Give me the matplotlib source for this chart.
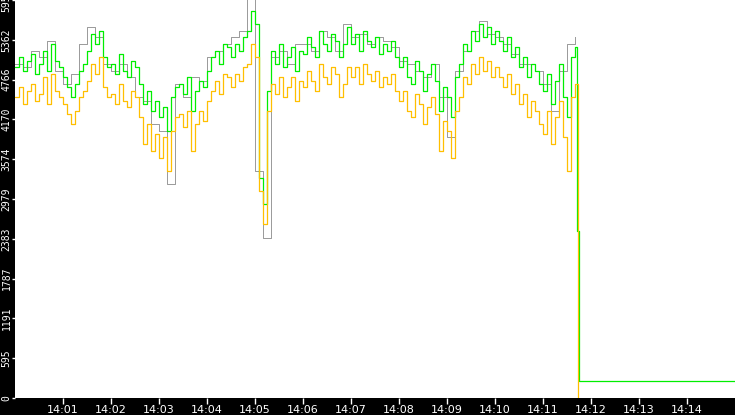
import numpy as np
import matplotlib
matplotlib.use("Agg")
import matplotlib.pyplot as plt

# Series sampled every 5 s from 14:00:00 to 14:11:40
GREEN = [
    4950, 5100, 4900, 5050, 5150, 4850, 5000, 5200, 4900, 5300, 5050, 4950,
    4800, 4650, 4500, 4700, 4900, 5000, 5200, 5450, 5300, 5500, 5100, 4950,
    5000, 4850, 5150, 4900, 4800, 5050, 4950, 4700, 4400, 4600, 4300, 4450,
    4200, 4350, 4000, 4500, 4650, 4700, 4550, 4800, 4300, 4600, 4750, 4650,
    4900, 5100, 5200, 5000, 5300, 5250, 5100, 5300, 5200, 5400, 5500, 5800,
    5600, 3300, 2900, 4600, 5200, 5000, 5300, 4950, 5100, 5250, 4900, 5200,
    5150, 5400, 5250, 5100, 5500, 5300, 5200, 5450, 5350, 5100, 5300, 5550,
    5300, 5450, 5200, 5500, 5350, 5250, 5400, 5150, 5300, 5200, 5350, 5100,
    4950, 5100, 4800, 4700, 5050, 4900, 4600, 4850, 5000, 4750, 4300, 4650,
    4500, 4200, 4800, 5000, 5300, 5200, 5500, 5350, 5600, 5400, 5550, 5300,
    5500, 5350, 5200, 5400, 5100, 5250, 4950, 5100, 4800, 5000, 4900, 4700,
    4600, 4850, 4400, 4750, 5000, 4500, 4200, 5100, 5250,
]
ORANGE = [
    4500, 4650, 4400, 4600, 4700, 4450, 4550, 4800, 4400, 4850, 4600, 4500,
    4400, 4250, 4100, 4300, 4500, 4600, 4750, 5000, 4850, 5100, 4650, 4500,
    4550, 4400, 4700, 4450, 4350, 4600, 4500, 4200, 3800, 4100, 3700, 3950,
    3600, 3900, 3400, 4000, 4200, 4250, 4050, 4300, 3700, 4100, 4300, 4150,
    4450, 4600, 4750, 4550, 4850, 4800, 4650, 4850, 4750, 4950, 5000, 5300,
    5100, 3100, 2600, 4300, 4700, 4550, 4800, 4500, 4650, 4800, 4450, 4750,
    4650, 4900, 4750, 4600, 5000, 4800, 4700, 4950, 4850, 4500, 4700, 4950,
    4800, 4950, 4700, 5000, 4850, 4750, 4900, 4650, 4800, 4700, 4850, 4600,
    4450, 4600, 4300, 4200, 4550, 4400, 4100, 4350, 4500, 4250, 3700, 4150,
    4000, 3600, 4300, 4500, 4800, 4700, 5000, 4850, 5100, 4900, 5050, 4800,
    4950, 4800, 4650, 4850, 4550, 4700, 4400, 4550, 4200, 4450, 4300, 4100,
    3950, 4300, 3800, 4200, 4450, 3900, 3400, 4500, 4700,
]
# Gray series sampled every 10 s
GRAY = [
    5000, 4950, 5200, 5100, 5350, 4900, 4700, 4850, 5300, 5550,
    5400, 5000, 4900, 5000, 4800, 4500, 4450, 4100, 4000, 3200,
    4700, 4500, 4800, 4750, 5100, 5200, 5300, 5400, 5500, 6000,
    3400, 2400, 5100, 5200, 5000, 5300, 5300, 5200, 5500, 5400,
    5200, 5600, 5400, 5450, 5300, 5400, 5350, 5250, 5050, 5000,
    4900, 4800, 5000, 4500, 3900, 4900, 5200, 5500, 5650, 5450,
    5400, 5300, 5150, 5000, 5000, 4900, 4700, 4300, 4900, 5300,
    5400,
]
# After the drop
GREEN_TAIL_T = [703, 705, 900]
GREEN_TAIL_V = [2500, 250, 250]
ORANGE_TAIL_T = [704]
ORANGE_TAIL_V = [0]

Y_MAX = 5958
Y_TICKS = [0, 595, 1191, 1787, 2383, 2979, 3574, 4170, 4766, 5362, 5958]
X_TICK_SEC = [60 * m for m in range(1, 15)]
X_TICK_LABELS = [f"14:{m:02d}" for m in range(1, 15)]

t5 = np.arange(len(GREEN)) * 5
t10 = np.arange(len(GRAY)) * 10

fig = plt.figure(figsize=(7.35, 4.15), dpi=100, facecolor="black")
ax = fig.add_axes([15 / 735, 17 / 415, 720 / 735, 398 / 415])
ax.set_facecolor("white")

ax.step(list(t10), GRAY, where="post", color="#999999", lw=0.7)
ax.step(list(t5) + GREEN_TAIL_T, GREEN + GREEN_TAIL_V, where="post", color="#00ee00", lw=0.9)
ax.step(list(t5) + ORANGE_TAIL_T, ORANGE + ORANGE_TAIL_V, where="post", color="#ffbf00", lw=0.9)

ax.set_xlim(0, 900)
ax.set_ylim(0, Y_MAX)
ax.set_yticks(Y_TICKS)
ax.set_yticklabels([str(v) for v in Y_TICKS], rotation=90, va="center",
                   color="white", fontsize=7, family="DejaVu Sans Mono")
ax.set_xticks(X_TICK_SEC)
ax.set_xticklabels(X_TICK_LABELS, color="white", fontsize=8)
ax.tick_params(axis="y", colors="white", length=2, width=1, pad=0.5)
ax.tick_params(axis="x", colors="white", length=4, width=1, pad=1)
for s in ax.spines.values():
    s.set_visible(False)

fig.savefig("out.png", dpi=100, facecolor="black")
